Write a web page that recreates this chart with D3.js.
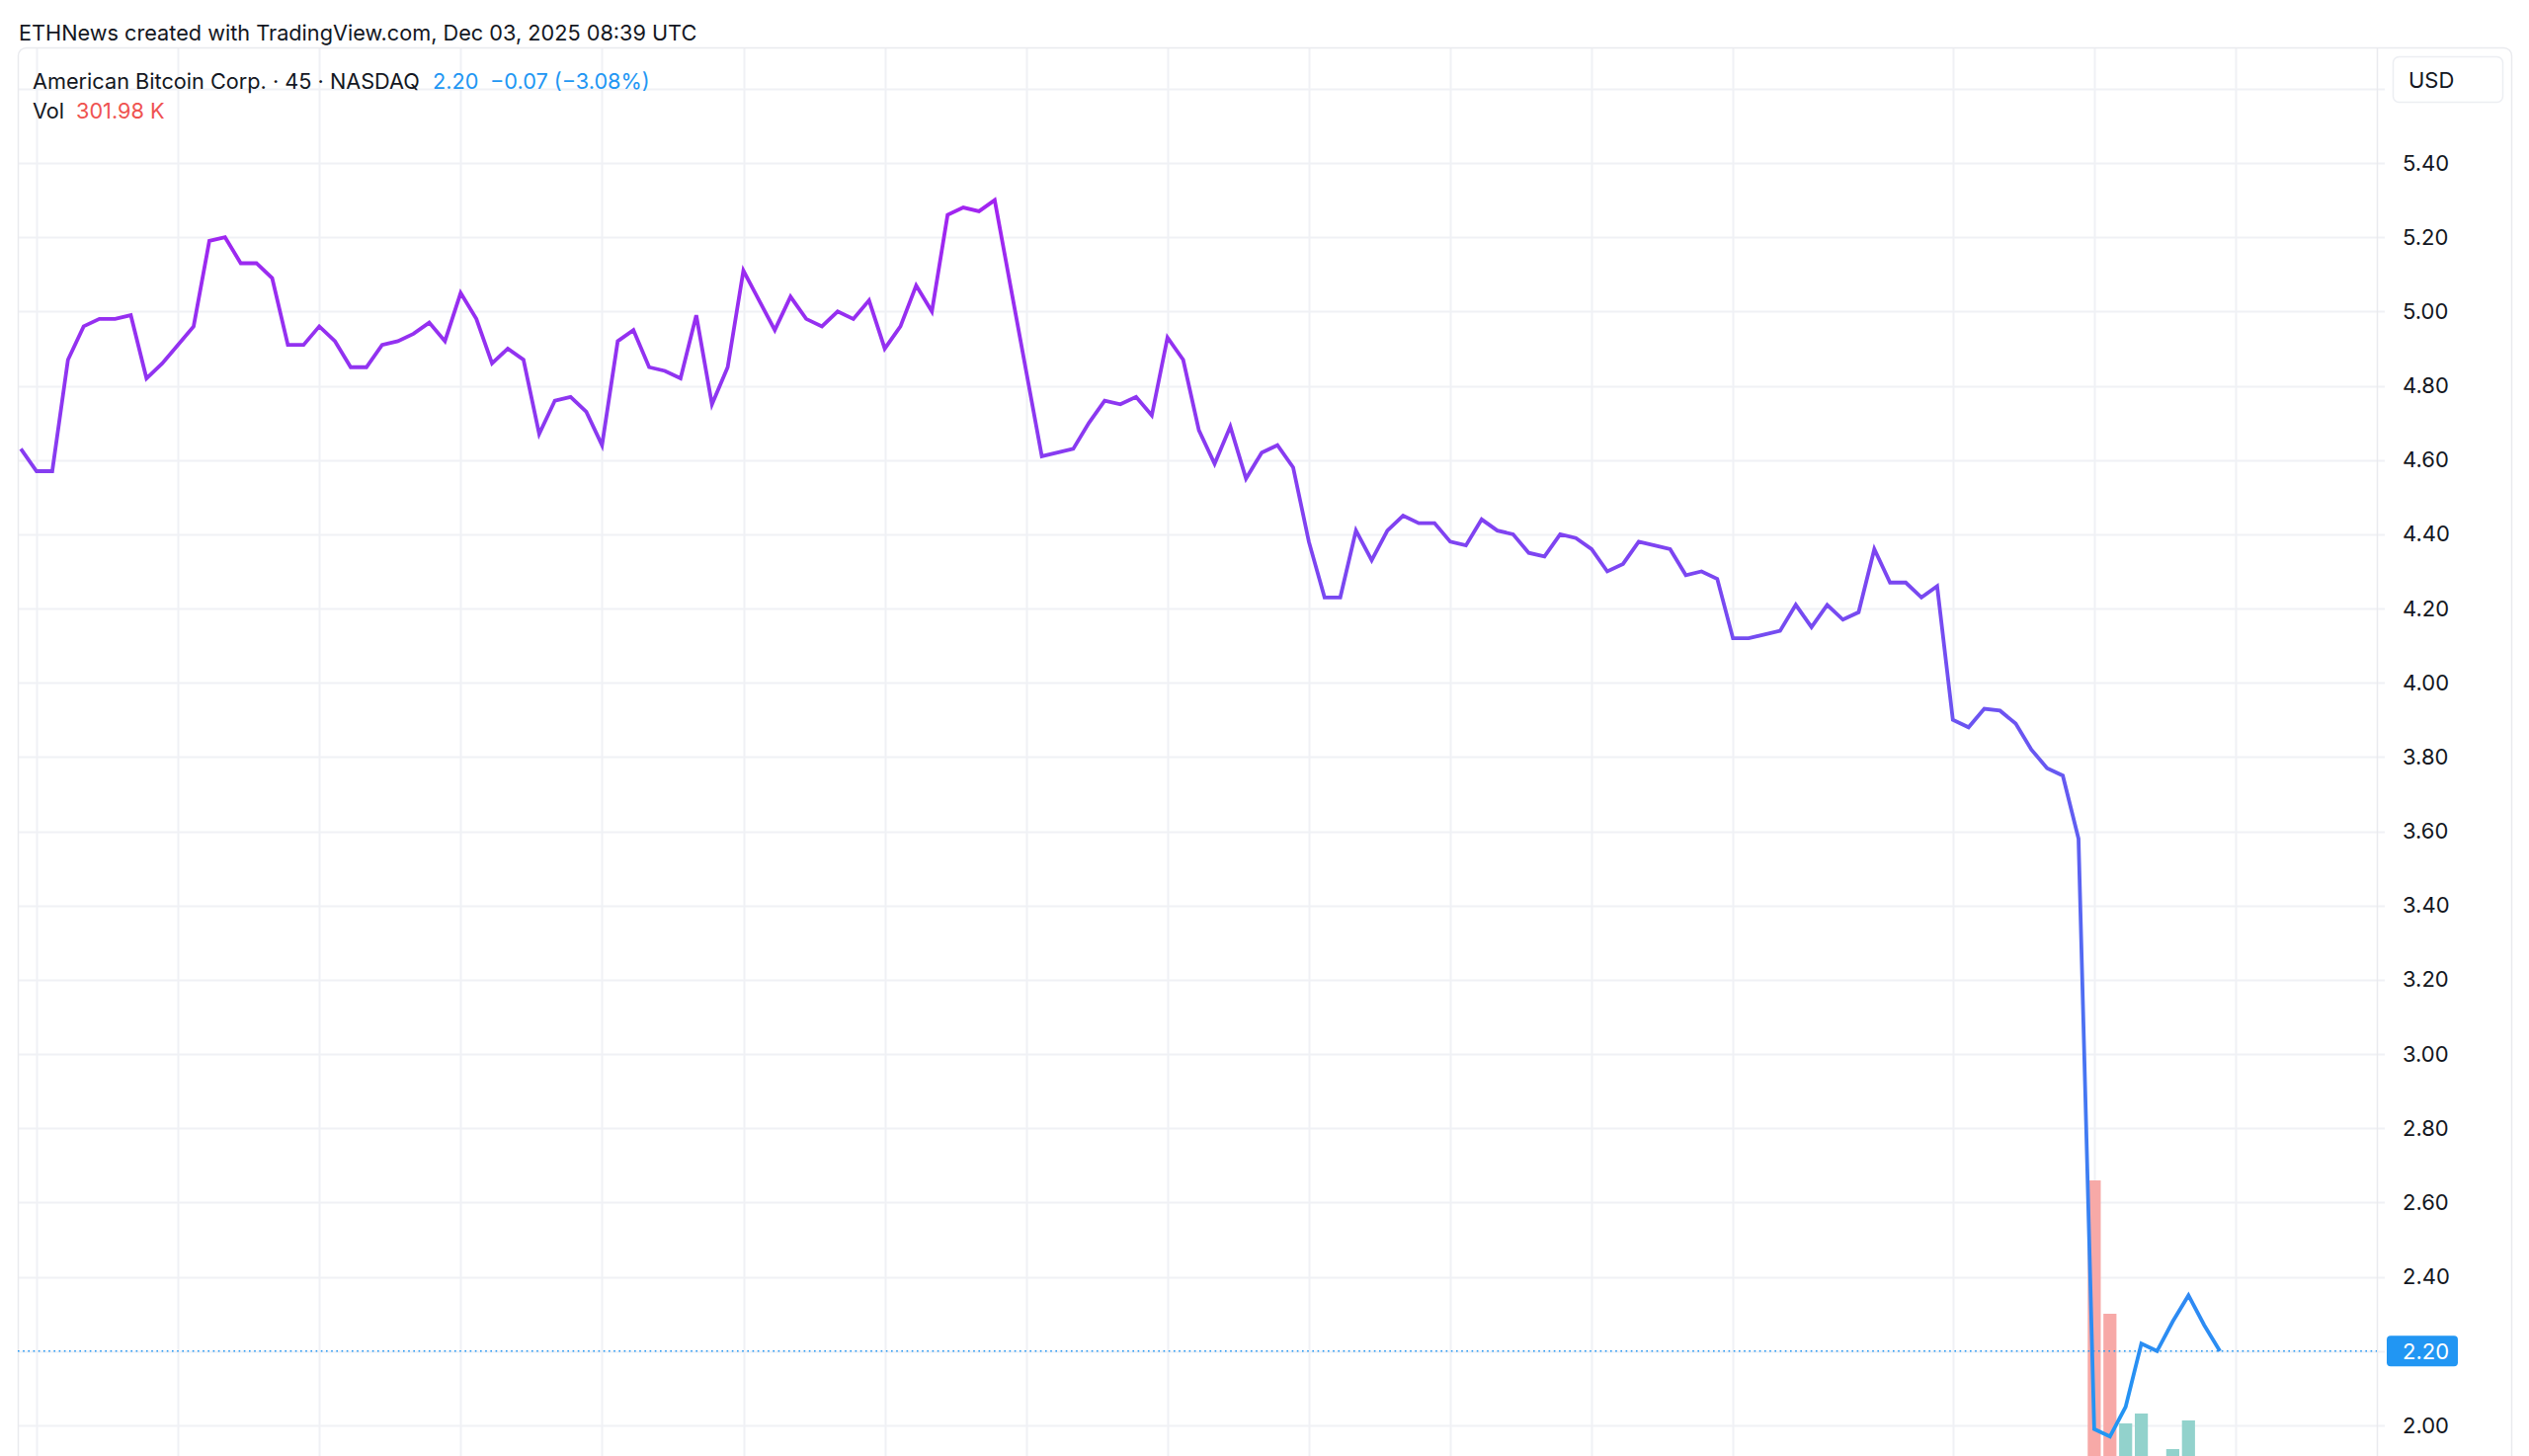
<!DOCTYPE html>
<html>
<head>
<meta charset="utf-8">
<script src="https://cdn.jsdelivr.net/npm/d3@7"></script>
<style>
  body { margin: 0; background: #fff; }
  svg { display: block; font-family: Inter, "Noto Sans", sans-serif; }
</style>
</head>
<body>
<svg id="chart" width="2560" height="1474"></svg>
<script>
// 45-minute closes, ABTC, one value per bar (bar 0 is the last bar of the previous session)
const prices = [
  4.63, 4.57, 4.57, 4.87, 4.96, 4.98, 4.98, 4.99, 4.82, 4.86,
  4.91, 4.96, 5.19, 5.20, 5.13, 5.13, 5.09, 4.91, 4.91, 4.96,
  4.92, 4.85, 4.85, 4.91, 4.92, 4.94, 4.97, 4.92, 5.05, 4.98,
  4.86, 4.90, 4.87, 4.67, 4.76, 4.77, 4.73, 4.64, 4.92, 4.95,
  4.85, 4.84, 4.82, 4.99, 4.75, 4.85, 5.11, 5.03, 4.95, 5.04,
  4.98, 4.96, 5.00, 4.98, 5.03, 4.90, 4.96, 5.07, 5.00, 5.26,
  5.28, 5.27, 5.30, 5.07, 4.84, 4.61, 4.62, 4.63, 4.70, 4.76,
  4.75, 4.77, 4.72, 4.93, 4.87, 4.68, 4.59, 4.69, 4.55, 4.62,
  4.64, 4.58, 4.38, 4.23, 4.23, 4.41, 4.33, 4.41, 4.45, 4.43,
  4.43, 4.38, 4.37, 4.44, 4.41, 4.40, 4.35, 4.34, 4.40, 4.39,
  4.36, 4.30, 4.32, 4.38, 4.37, 4.36, 4.29, 4.30, 4.28, 4.12,
  4.12, 4.13, 4.14, 4.21, 4.15, 4.21, 4.17, 4.19, 4.36, 4.27,
  4.27, 4.23, 4.26, 3.90, 3.88, 3.93, 3.925, 3.89, 3.82, 3.77,
  3.75, 3.58, 1.99, 1.97, 2.05, 2.22, 2.20, 2.28, 2.35, 2.27,
  2.20
];

// volume (thousands) of the last session, which starts at bar 132
const volStart = 132;
const volumes = [3170, 1820, 710, 810, 300, 450, 740, 260, 301.98];

// bars where a new session starts (vertical grid)
const sessionStarts = [1, 10, 19, 28, 37, 46, 55, 64, 73, 82, 91, 100, 109, 123, 132, 141];

// price scale
const gridTicks = [2.0, 2.2, 2.4, 2.6, 2.8, 3.0, 3.2, 3.4, 3.6, 3.8, 4.0, 4.2, 4.4, 4.6, 4.8, 5.0, 5.2, 5.4, 5.6];
const labelTicks = gridTicks.filter(d => d <= 5.4);

const lastPrice = 2.20;
const header = "ETHNews created with TradingView.com, Dec 03, 2025 08:39 UTC";
const symbolText = "American Bitcoin Corp. · 45 · NASDAQ";
const changeText = "−0.07 (−3.08%)";
const volText = "301.98 K";

const svg = d3.select("#chart");

const paneLeft = 18, paneTop = 48, scaleX = 2406, rightEdge = 2542;
const fs = "21.7px";

const x = d3.scaleLinear().domain([0, 140]).range([21.1, 21.1 + 140 * 15.9]);
const y = d3.scaleLinear().domain([2.0, 5.4]).range([1443, 165]);
const yVol = d3.scaleLinear().domain([0, 1000]).range([1512, 1412]);

const gridColor = "#f0f1f5";
const borderColor = "#e9eaee";

// clip for the plotting pane
svg.append("clipPath").attr("id", "pane")
  .append("rect")
  .attr("x", paneLeft).attr("y", paneTop)
  .attr("width", scaleX - paneLeft).attr("height", 1474 - paneTop);

// grid
const grid = svg.append("g");
grid.selectAll(".hgrid")
  .data(gridTicks)
  .enter().append("line")
  .attr("x1", paneLeft).attr("x2", scaleX + 8)
  .attr("y1", d => Math.round(y(d)) + 0.5).attr("y2", d => Math.round(y(d)) + 0.5)
  .attr("stroke", gridColor).attr("stroke-width", 2);
grid.selectAll(".vgrid")
  .data(sessionStarts)
  .enter().append("line")
  .attr("x1", d => Math.round(x(d)) + 0.5).attr("x2", d => Math.round(x(d)) + 0.5)
  .attr("y1", paneTop).attr("y2", 1474)
  .attr("stroke", gridColor).attr("stroke-width", 2);

// frame
svg.append("rect")
  .attr("x", paneLeft + 0.5).attr("y", paneTop + 0.5)
  .attr("width", rightEdge - paneLeft).attr("height", 1600)
  .attr("rx", 8)
  .attr("fill", "none").attr("stroke", borderColor).attr("stroke-width", 1.5);
svg.append("line")
  .attr("x1", scaleX + 0.5).attr("x2", scaleX + 0.5)
  .attr("y1", paneTop).attr("y2", 1474)
  .attr("stroke", borderColor).attr("stroke-width", 1.5);

const plot = svg.append("g").attr("clip-path", "url(#pane)");

// volume bars
plot.selectAll(".vol")
  .data(volumes)
  .enter().append("rect")
  .attr("x", (d, i) => x(volStart + i) - 6.6)
  .attr("width", 13.2)
  .attr("y", d => yVol(d))
  .attr("height", d => yVol(0) - yVol(d))
  .attr("fill", (d, i) => {
    const k = volStart + i;
    return prices[k] < prices[k - 1] ? "#f7a9a7" : "#92d2cc";
  });

// last price line
plot.append("line")
  .attr("x1", paneLeft).attr("x2", scaleX)
  .attr("y1", y(lastPrice)).attr("y2", y(lastPrice))
  .attr("stroke", "#2196f3").attr("stroke-width", 1.6)
  .attr("stroke-dasharray", "1.6,3.6");

// price line, coloured by price
const grad = svg.append("defs").append("linearGradient")
  .attr("id", "lineGrad")
  .attr("gradientUnits", "userSpaceOnUse")
  .attr("x1", 0).attr("x2", 0)
  .attr("y1", y(d3.max(prices))).attr("y2", y(d3.min(prices)));
grad.append("stop").attr("offset", "0%").attr("stop-color", "#a224f0");
grad.append("stop").attr("offset", "100%").attr("stop-color", "#2196f3");

const line = d3.line()
  .x((d, i) => x(i))
  .y(d => y(d));

plot.append("path")
  .datum(prices)
  .attr("fill", "none")
  .attr("stroke", "url(#lineGrad)")
  .attr("stroke-width", 3.8)
  .attr("stroke-linejoin", "miter")
  .attr("d", line);

// price axis
const axis = svg.append("g")
  .attr("transform", `translate(${scaleX},0)`)
  .call(d3.axisRight(y).tickValues(labelTicks).tickFormat(d3.format(".2f")).tickSize(0).tickPadding(26));
axis.select(".domain").remove();
axis.selectAll("text")
  .attr("fill", "#131722")
  .style("font-size", "22px")
  .style("font-family", "Inter, 'Noto Sans', sans-serif");

// currency box
svg.append("rect")
  .attr("x", 2422.5).attr("y", 57.5).attr("width", 111).attr("height", 46).attr("rx", 6)
  .attr("fill", "#fff").attr("stroke", "#eceef2").attr("stroke-width", 1.5);
svg.append("text")
  .attr("x", 2438).attr("y", 81).attr("dy", "0.35em")
  .attr("fill", "#131722").style("font-size", "22px")
  .text("USD");

// last price label
svg.append("rect")
  .attr("x", 2416).attr("y", y(lastPrice) - 15.5).attr("width", 72).attr("height", 31).attr("rx", 4)
  .attr("fill", "#2196f3");
svg.append("text")
  .attr("x", 2432).attr("y", y(lastPrice)).attr("dy", "0.35em")
  .attr("fill", "#fff").style("font-size", "22px")
  .text(d3.format(".2f")(lastPrice));

// header and legend
svg.append("text")
  .attr("x", 19).attr("y", 41)
  .attr("fill", "#131722").style("font-size", fs)
  .text(header);

svg.append("text")
  .attr("x", 33).attr("y", 90)
  .attr("fill", "#131722").style("font-size", fs)
  .text(symbolText);
svg.append("text")
  .attr("x", 438).attr("y", 90)
  .attr("fill", "#2196f3").style("font-size", fs)
  .text(d3.format(".2f")(lastPrice));
svg.append("text")
  .attr("x", 496).attr("y", 90)
  .attr("fill", "#2196f3").style("font-size", fs)
  .text(changeText);

svg.append("text")
  .attr("x", 33).attr("y", 120)
  .attr("fill", "#131722").style("font-size", fs)
  .text("Vol");
svg.append("text")
  .attr("x", 77).attr("y", 120)
  .attr("fill", "#ef5350").style("font-size", fs)
  .text(volText);
</script>
</body>
</html>
